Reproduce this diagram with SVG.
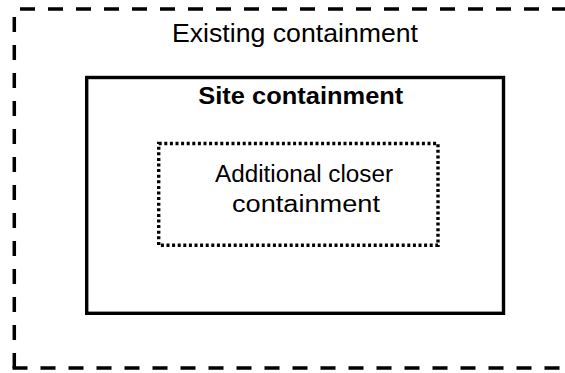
<svg xmlns="http://www.w3.org/2000/svg" width="565" height="373" viewBox="0 0 565 373">
<style>
.lbl{font-family:"Liberation Sans",Arial,sans-serif;fill:#000;text-anchor:middle}
.outer{fill:none;stroke:#000;stroke-width:3.5;stroke-dasharray:15 13}
.site{fill:none;stroke:#000;stroke-width:3.4}
.closer{fill:none;stroke:#000;stroke-width:3.4;stroke-dasharray:3 2.6}
</style>
<rect width="565" height="373" fill="#fff"/>
<g id="existing">
<path class="outer" d="M14.3,368 V9"/>
<path class="outer" d="M12.5,368 H565"/>
<path class="outer" d="M20,9 H565"/>
<text class="lbl" x="295" y="42" font-size="25" textLength="246" lengthAdjust="spacingAndGlyphs">Existing containment</text>
</g>
<g id="site">
<rect class="site" x="86.7" y="77.5" width="416.8" height="235.8"/>
<text class="lbl" x="300.8" y="104.3" font-size="24.5" font-weight="bold" textLength="205" lengthAdjust="spacingAndGlyphs">Site containment</text>
</g>
<g id="closer">
<rect class="closer" x="158.7" y="143.5" width="279.3" height="101.8"/>
<text class="lbl" x="304" y="181.7" font-size="23" textLength="178" lengthAdjust="spacingAndGlyphs">Additional closer</text>
<text class="lbl" x="306" y="211.7" font-size="23" textLength="148" lengthAdjust="spacingAndGlyphs">containment</text>
</g>
<g id="connectors"></g>
</svg>
